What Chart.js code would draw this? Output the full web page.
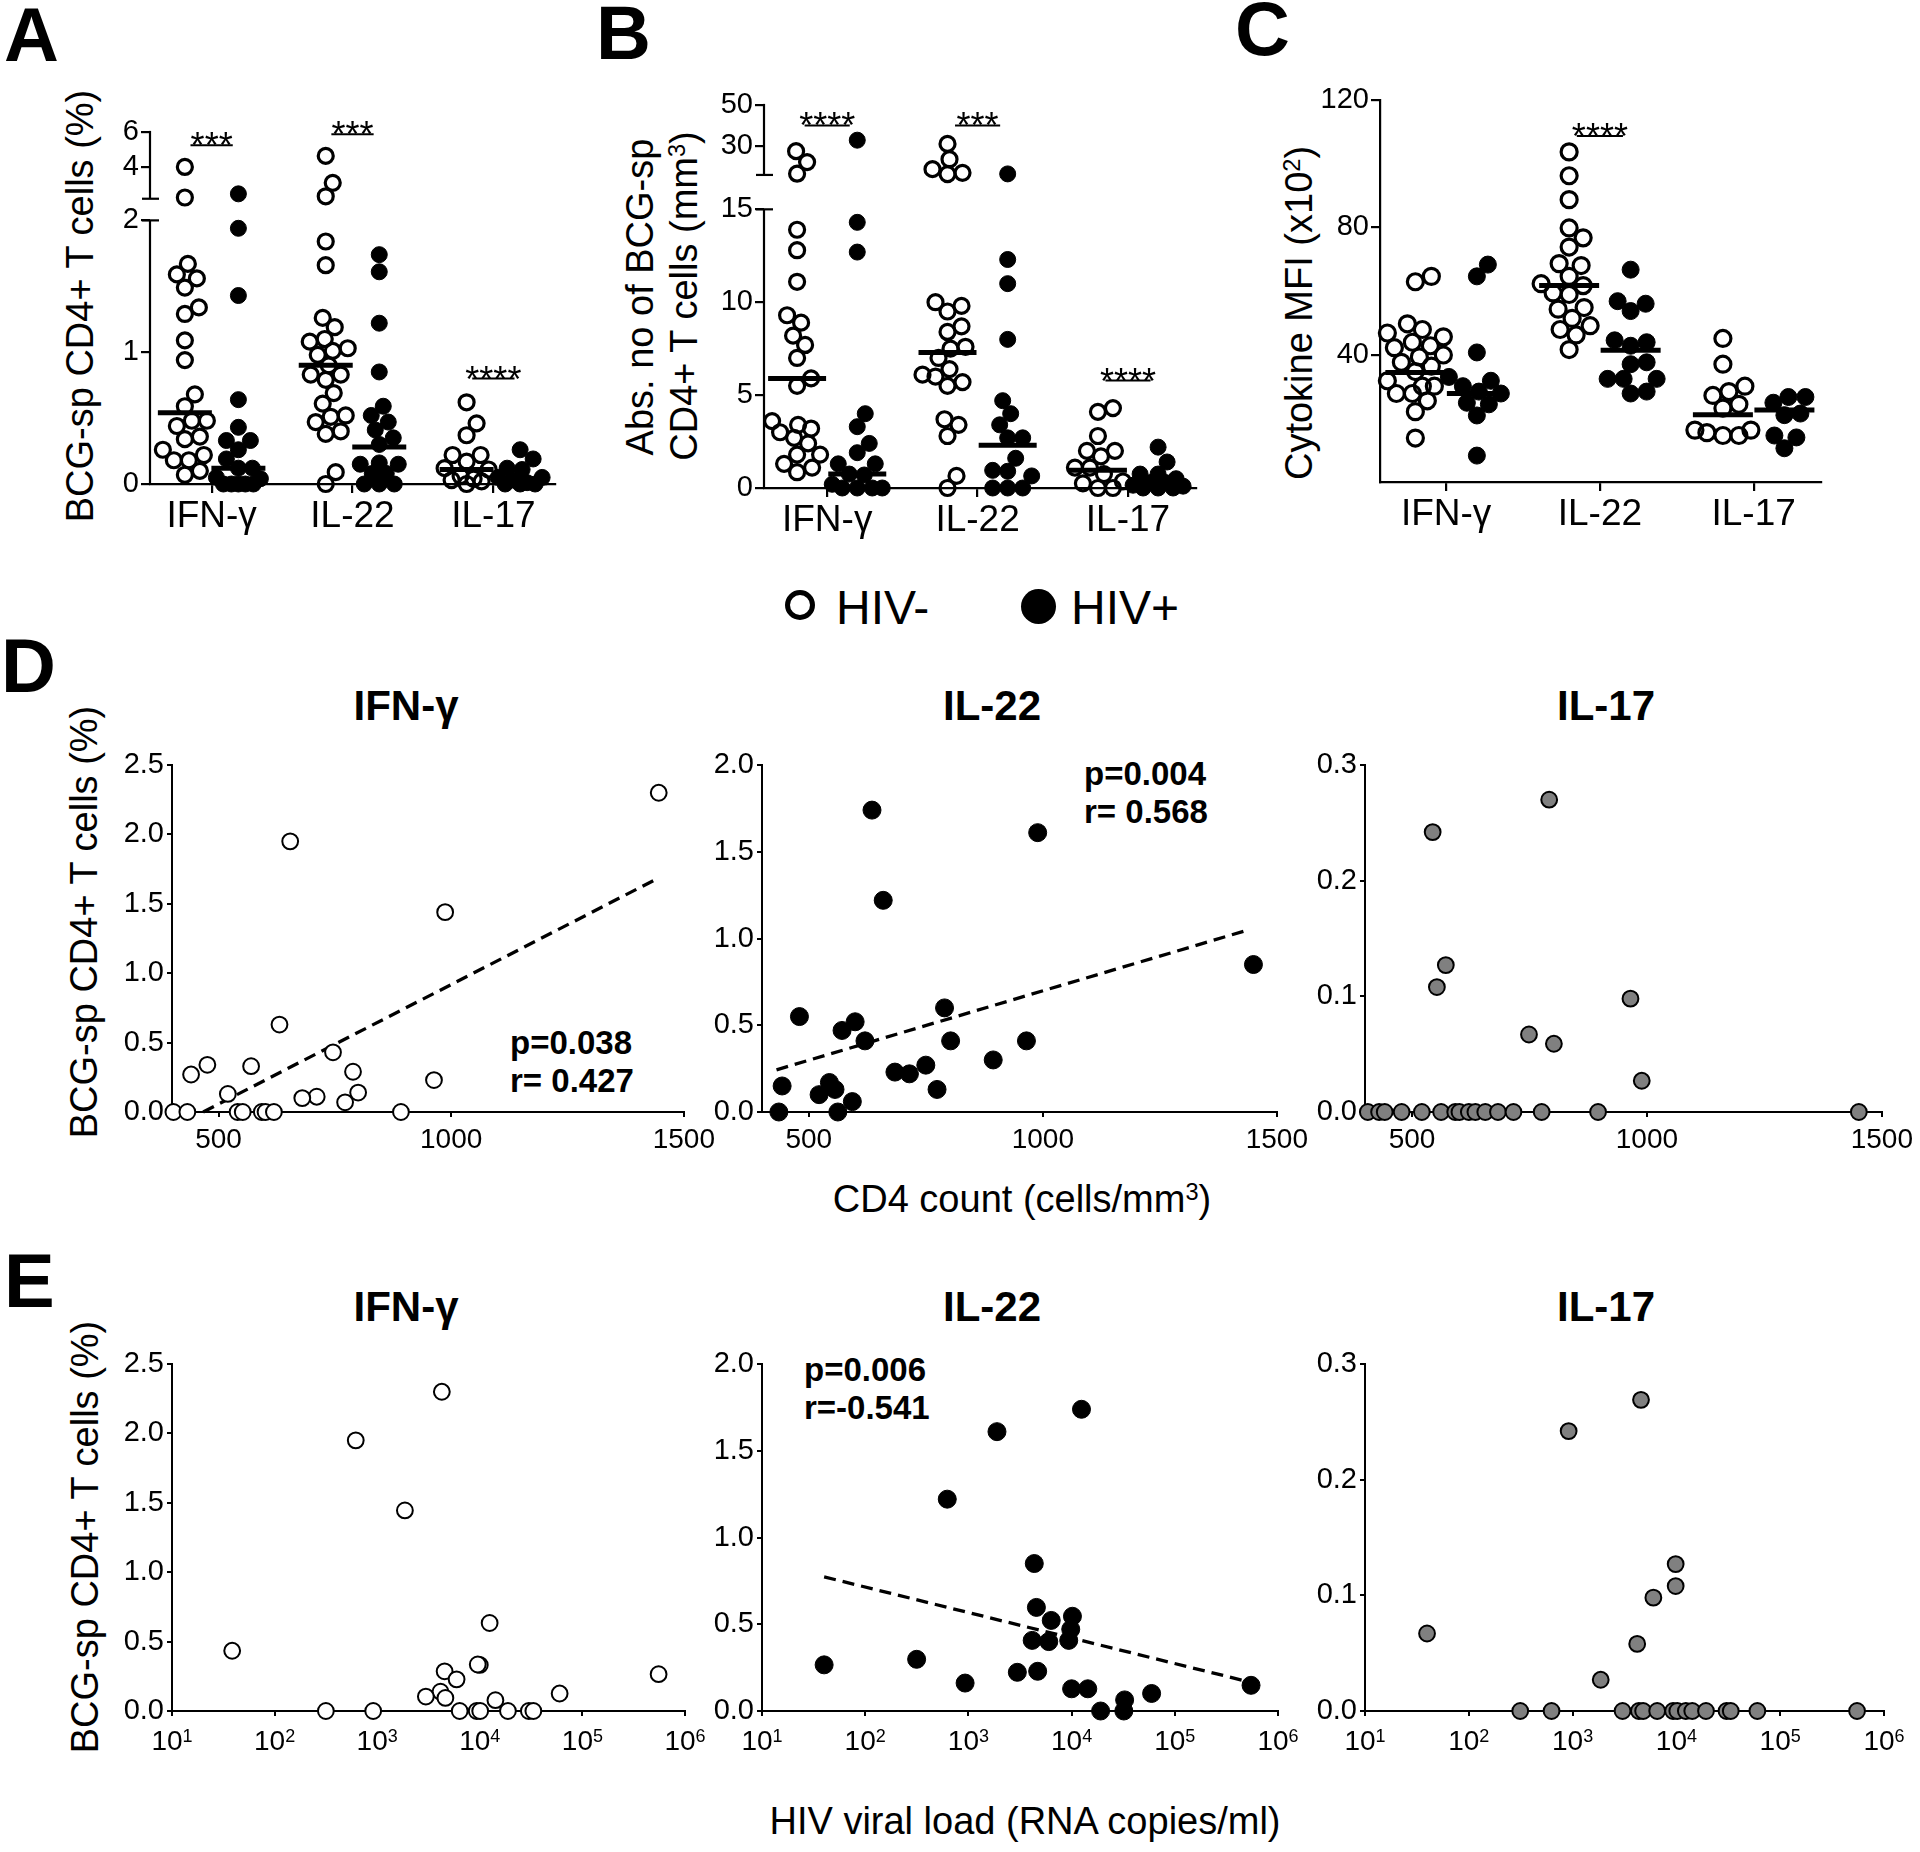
<!DOCTYPE html>
<html lang="en">
<head>
<meta charset="UTF-8" />
<title>BCG-specific CD4+ T cell responses by HIV status</title>
<script src="https://cdn.jsdelivr.net/npm/chart.js"></script>
<style>
  html, body { margin: 0; padding: 0; background: #fff; }
  body { width: 1920px; height: 1852px; position: relative; overflow: hidden;
         font-family: 'Liberation Sans', Arial, Helvetica, sans-serif; color: #000; }
  canvas { position: absolute; }
  .t { position: absolute; white-space: nowrap; line-height: 1; }
  .letter { font-weight: bold; font-size: 76px; }
  .ytitle { font-size: 38px; transform: translate(-50%, -50%) rotate(-90deg); }
  .sub { font-weight: bold; font-size: 42px; transform: translateX(-50%); }
  .stat { font-weight: bold; font-size: 33px; line-height: 38px; }
  .xt { font-size: 38px; transform: translateX(-50%); }
  sup { font-size: 0.62em; position: relative; top: -0.5em; vertical-align: baseline; line-height: 0; }
</style>
</head>
<body>
  <!-- panel letters -->
  <div class="t letter" style="left:4px;top:-3px">A</div>
  <div class="t letter" style="left:596px;top:-5px">B</div>
  <div class="t letter" style="left:1235px;top:-9px">C</div>
  <div class="t letter" style="left:1px;top:628px">D</div>
  <div class="t letter" style="left:4px;top:1243px">E</div>

  <!-- y axis titles -->
  <div class="t ytitle" style="left:80px;top:306px">BCG-sp CD4+ T cells (%)</div>
  <div class="t ytitle" style="left:640px;top:297px">Abs. no of BCG-sp</div>
  <div class="t ytitle" style="left:684px;top:296px">CD4+ T cells (mm<sup>3</sup>)</div>
  <div class="t ytitle" style="left:1299px;top:313px">Cytokine MFI (x10<sup>2</sup>)</div>
  <div class="t ytitle" style="left:84px;top:922px">BCG-sp CD4+ T cells (%)</div>
  <div class="t ytitle" style="left:85px;top:1537px">BCG-sp CD4+ T cells (%)</div>

  <!-- legend -->
  <div style="position:absolute;left:785px;top:590px;width:30px;height:30px;box-sizing:border-box;border:5px solid #000;border-radius:50%"></div>
  <div class="t" style="left:836px;top:584px;font-size:48px">HIV-</div>
  <div style="position:absolute;left:1021px;top:589px;width:35px;height:35px;border-radius:50%;background:#000"></div>
  <div class="t" style="left:1071px;top:584px;font-size:48px">HIV+</div>

  <!-- sub-plot titles -->
  <div class="t sub" style="left:406px;top:685px">IFN-γ</div>
  <div class="t sub" style="left:992px;top:685px">IL-22</div>
  <div class="t sub" style="left:1606px;top:685px">IL-17</div>
  <div class="t sub" style="left:406px;top:1286px">IFN-γ</div>
  <div class="t sub" style="left:992px;top:1286px">IL-22</div>
  <div class="t sub" style="left:1606px;top:1286px">IL-17</div>

  <!-- correlation stats -->
  <div class="t stat" style="left:510px;top:1024px">p=0.038<br>r= 0.427</div>
  <div class="t stat" style="left:1084px;top:755px">p=0.004<br>r= 0.568</div>
  <div class="t stat" style="left:804px;top:1351px">p=0.006<br>r=-0.541</div>

  <!-- shared x titles -->
  <div class="t xt" style="left:1022px;top:1180px">CD4 count (cells/mm<sup>3</sup>)</div>
  <div class="t xt" style="left:1025px;top:1802px">HIV viral load (RNA copies/ml)</div>

  <canvas id="chartA"></canvas>
  <canvas id="chartB"></canvas>
  <canvas id="chartC"></canvas>
  <canvas id="chartD1"></canvas>
  <canvas id="chartD2"></canvas>
  <canvas id="chartD3"></canvas>
  <canvas id="chartE1"></canvas>
  <canvas id="chartE2"></canvas>
  <canvas id="chartE3"></canvas>

<script>
// ---------- data ----------
const categories = ['IFN-γ', 'IL-22', 'IL-17'];

// A: BCG-sp CD4+ T cells (%), HIV- (open) / HIV+ (filled)
const aIfnNeg  = [4.0, 2.25, 1.67, 1.59, 1.56, 1.49, 1.34, 1.29, 1.09, 0.94, 0.68, 0.59, 0.48, 0.48, 0.44, 0.36, 0.34, 0.26, 0.22, 0.18, 0.18, 0.10, 0.07];
const aIfnPos  = [2.46, 1.94, 1.43, 0.64, 0.43, 0.33, 0.33, 0.26, 0.19, 0.12, 0.12, 0.05, 0.04, 0, 0, 0, 0, 0];
const aIl22Neg = [4.63, 3.09, 2.32, 1.84, 1.66, 1.26, 1.19, 1.10, 1.08, 1.03, 1.01, 0.98, 0.90, 0.83, 0.83, 0.79, 0.69, 0.61, 0.52, 0.51, 0.47, 0.40, 0.38, 0.09, 0];
const aIl22Pos = [1.74, 1.61, 1.22, 0.85, 0.59, 0.52, 0.47, 0.41, 0.35, 0.30, 0.16, 0.15, 0.15, 0.08, 0.08, 0, 0, 0];
const aIl17Neg = [0.62, 0.46, 0.37, 0.22, 0.22, 0.17, 0.12, 0.11, 0.06, 0.04, 0.03, 0.02, 0];
const aIl17Pos = [0.26, 0.19, 0.12, 0.11, 0.05, 0.05, 0.03, 0.01, 0, 0, 0];
const aMeanNeg = [0.54, 0.90, 0.11];
const aMeanPos = [0.12, 0.28, 0.01];
const aLowTicks = [0, 1, 2];
const aHighTicks = [4, 6];
const aSigText = ['***', '***', '****'];
const aSigLevel = [5.24, 5.87, 0.80];

// B: absolute number of BCG-sp CD4+ T cells (/mm3)
const bIfnNeg  = [27.7, 22.4, 16.8, 13.9, 12.8, 11.1, 9.3, 8.9, 8.2, 7.7, 7.0, 5.9, 5.5, 3.6, 3.4, 3.2, 3.0, 2.7, 2.4, 1.8, 1.8, 1.3, 1.1, 0.85];
const bIfnPos  = [33.0, 14.3, 12.7, 4.0, 3.3, 2.4, 1.9, 1.3, 1.3, 0.75, 0.7, 0.2, 0, 0, 0, 0];
const bIl22Neg = [31.2, 23.8, 19.0, 17.2, 16.6, 10.0, 9.8, 9.5, 8.7, 8.4, 7.6, 7.5, 7.0, 6.4, 6.1, 6.0, 5.7, 5.5, 3.7, 3.4, 2.8, 0.65, 0];
const bIl22Pos = [16.7, 12.3, 11.0, 8.0, 4.7, 4.0, 3.4, 2.7, 2.7, 1.6, 0.95, 0.9, 0.65, 0, 0, 0];
const bIl17Neg = [4.3, 4.1, 2.8, 2.0, 2.0, 1.7, 1.1, 1.1, 0.75, 0.35, 0.25, 0, 0];
const bIl17Pos = [2.2, 1.4, 0.75, 0.75, 0.5, 0.3, 0.3, 0.15, 0.1, 0, 0, 0];
const bMeanNeg = [5.9, 7.3, 0.95];
const bMeanPos = [0.75, 2.3, 0.1];
const bLowTicks = [0, 5, 10, 15];
const bHighTicks = [30, 50];
const bSigText = ['****', '***', '****'];
const bSigLevel = [40.1, 40.1, 5.78];

// C: cytokine MFI (x10^2)
const cIfnNeg  = [64.6, 62.9, 49.7, 47.9, 46.8, 45.6, 43.9, 42.8, 42.2, 39.9, 39.3, 37.6, 36.4, 34.7, 31.8, 30.1, 30.1, 27.8, 27.8, 25.5, 22.1, 13.8];
const cIfnPos  = [68.3, 64.6, 40.7, 33.0, 31.8, 30.1, 28.4, 27.8, 24.9, 24.4, 20.9, 8.3];
const cIl22Neg = [103.7, 96.2, 88.7, 79.8, 76.7, 73.8, 68.6, 68.0, 64.6, 62.3, 61.7, 59.4, 58.9, 54.8, 54.3, 51.4, 49.1, 47.9, 46.2, 41.6];
const cIl22Pos = [66.7, 56.8, 56.0, 53.7, 44.5, 43.9, 42.8, 37.6, 37.0, 32.4, 32.4, 32.4, 28.4, 27.8];
const cIl17Neg = [45.1, 37.0, 30.1, 28.4, 27.2, 24.4, 23.2, 16.3, 16.3, 15.5, 14.6, 14.6];
const cIl17Pos = [26.7, 26.7, 24.9, 21.5, 21.0, 14.6, 14.0, 10.6];
const cMeanNeg = [34.4, 61.7, 21.1];
const cMeanPos = [27.8, 41.4, 22.6];
const cTicks = [40, 80, 120];
const cSigText = ['****'];
const cSigLevel = [108.7];

// D: CD4 count vs BCG-sp CD4+ T cells (%)
const dIfnX  = [1446, 654, 987, 631, 746, 476, 570, 441, 789, 963, 800, 520, 711, 680, 772, 403, 433, 541, 552, 593, 601, 619, 892];
const dIfnY  = [2.30, 1.95, 1.44, 0.63, 0.43, 0.34, 0.33, 0.27, 0.29, 0.23, 0.14, 0.13, 0.11, 0.10, 0.07, 0, 0, 0, 0, 0, 0, 0, 0];
const dIl22X = [635, 989, 659, 1450, 790, 480, 599, 571, 620, 803, 965, 894, 750, 684, 715, 544, 443, 774, 556, 522, 593, 436, 562];
const dIl22Y = [1.74, 1.61, 1.22, 0.85, 0.60, 0.55, 0.52, 0.47, 0.41, 0.41, 0.41, 0.30, 0.27, 0.23, 0.22, 0.17, 0.15, 0.13, 0.13, 0.10, 0.06, 0, 0];
const dIl17X = [792, 544, 572, 553, 965, 749, 802, 989, 406, 430, 442, 478, 521, 562, 592, 601, 621, 635, 656, 683, 716, 776, 896, 1451];
const dIl17Y = [0.270, 0.242, 0.127, 0.108, 0.098, 0.067, 0.059, 0.027, 0, 0, 0, 0, 0, 0, 0, 0, 0, 0, 0, 0, 0, 0, 0, 0];
const dIfnFitX = [467, 1438];
const dIfnFitY = [0, 1.673];
const dIl22FitX = [431, 1442];
const dIl22FitY = [0.243, 1.052];

// E: HIV viral load vs BCG-sp CD4+ T cells (%)
const eIfnX  = [4266, 618, 1862, 12470, 38.6, 10000, 9550, 4540, 553000, 5940, 4140, 2980, 60000, 4620, 14200, 316, 914, 6370, 9330, 10090, 18800, 30060, 33270];
const eIfnY  = [2.30, 1.95, 1.445, 0.634, 0.434, 0.332, 0.335, 0.286, 0.265, 0.228, 0.139, 0.104, 0.126, 0.094, 0.078, 0, 0, 0, 0, 0, 0, 0, 0];
const eIl22X = [12470, 1892, 624, 4350, 4560, 10190, 6350, 9810, 4150, 6010, 9380, 315, 40, 2980, 4690, 929, 548000, 10000, 14350, 59600, 32650, 19100, 32060];
const eIl22Y = [1.739, 1.610, 1.221, 0.850, 0.597, 0.546, 0.522, 0.471, 0.407, 0.400, 0.407, 0.298, 0.266, 0.223, 0.229, 0.161, 0.148, 0.128, 0.128, 0.101, 0.064, 0, 0];
const eIl17X = [4560, 916, 9840, 9840, 6000, 39.6, 4190, 1866, 313, 627, 3030, 4350, 4780, 6530, 9290, 10200, 12330, 14220, 19280, 30400, 33400, 60260, 550000];
const eIl17Y = [0.269, 0.242, 0.127, 0.108, 0.098, 0.067, 0.058, 0.027, 0, 0, 0, 0, 0, 0, 0, 0, 0, 0, 0, 0, 0, 0, 0];
const eIl22FitX = [40, 548000];
const eIl22FitY = [0.773, 0.165];

const cd4Ticks = [500, 1000, 1500];
const vlTicks = [10, 100, 1000, 10000, 100000, 1000000];
const pctTicks25 = [0, 0.5, 1.0, 1.5, 2.0, 2.5];
const pctTicks20 = [0, 0.5, 1.0, 1.5, 2.0];
const pctTicks03 = [0, 0.1, 0.2, 0.3];

// ---------- helpers ----------
const FONT = "'Liberation Sans', Arial, Helvetica, sans-serif";

// size and place a canvas so that its chart area lands on rect
function place(id, rect, pad) {
  const cv = document.getElementById(id);
  const w = rect.r - rect.l + pad.l + pad.r;
  const h = rect.b - rect.t + pad.t + pad.b;
  cv.width = w; cv.height = h;
  cv.style.width = w + 'px'; cv.style.height = h + 'px';
  cv.style.left = (rect.l - pad.l) + 'px';
  cv.style.top = (rect.t - pad.t) + 'px';
  return cv;
}

function tickFont(size) {
  return { color: '#000', font: { family: FONT, size: size } };
}

function gridStyle(width, len) {
  return { drawOnChartArea: false, drawTicks: true, tickLength: len, color: '#000', lineWidth: width };
}

// significance bars + stars
function sigPlugin(items, size, dy, half) {
  return {
    id: 'sig',
    afterDatasetsDraw(chart) {
      const ctx = chart.ctx, xs = chart.scales.x;
      ctx.save();
      ctx.strokeStyle = '#000'; ctx.fillStyle = '#000'; ctx.lineWidth = 2;
      ctx.font = size + 'px ' + FONT; ctx.textAlign = 'center'; ctx.textBaseline = 'alphabetic';
      items.forEach(it => {
        const y = chart.scales[it.axis].getPixelForValue(it.y);
        const x1 = xs.getPixelForValue(it.cat - half), x2 = xs.getPixelForValue(it.cat + half);
        ctx.beginPath(); ctx.moveTo(x1, y); ctx.lineTo(x2, y); ctx.stroke();
        ctx.fillText(it.text, (x1 + x2) / 2, y + dy);
      });
      ctx.restore();
    }
  };
}

// y axis line with a break between the two stacked scales
function brokenPlugin(b) {
  return {
    id: 'broken',
    beforeDatasetsDraw(chart) {
      const ctx = chart.ctx, x = chart.chartArea.left;
      const lo = chart.scales.yLow, hi = chart.scales.yHigh;
      const yLowTop = lo.getPixelForValue(b.lowTop), yHighBot = hi.getPixelForValue(b.highBottom);
      const seg = (x1, y1, x2, y2) => { ctx.beginPath(); ctx.moveTo(x1, y1); ctx.lineTo(x2, y2); ctx.stroke(); };
      ctx.save(); ctx.strokeStyle = '#000'; ctx.lineWidth = b.width;
      seg(x, chart.chartArea.bottom + b.width / 2, x, yLowTop);
      seg(x, yHighBot, x, hi.getPixelForValue(hi.max) - b.width / 2);
      seg(x - 8, yLowTop, x + 9, yLowTop);
      seg(x - 8, yHighBot, x + 9, yHighBot);
      ctx.restore();
    }
  };
}

// 10^n labels for the log axis
function logLabelPlugin(o) {
  return {
    id: 'logLabels',
    afterDraw(chart) {
      const xs = chart.scales.x, ctx = chart.ctx;
      const y = chart.chartArea.bottom + o.dy;
      ctx.save(); ctx.fillStyle = '#000'; ctx.textAlign = 'left'; ctx.textBaseline = 'alphabetic';
      xs.ticks.forEach(t => {
        const e = String(Math.round(Math.log10(t.value)));
        ctx.font = o.size + 'px ' + FONT; const w1 = ctx.measureText('10').width;
        ctx.font = o.sup + 'px ' + FONT; const w2 = ctx.measureText(e).width;
        const x0 = xs.getPixelForValue(t.value) - (w1 + w2) / 2;
        ctx.font = o.size + 'px ' + FONT; ctx.fillText('10', x0, y);
        ctx.font = o.sup + 'px ' + FONT; ctx.fillText(e, x0 + w1, y - o.rise);
      });
      ctx.restore();
    }
  };
}

// spread points of each column sideways so they do not sit on top of each other
function swarm(chart) {
  const xs = chart.scales.x;
  const groups = {};
  chart.data.datasets.forEach(ds => {
    if (ds.group === undefined) return;
    (groups[ds.group] = groups[ds.group] || []).push(ds);
  });
  Object.values(groups).forEach(list => {
    const cx = xs.getPixelForValue(list[0].center);
    const opt = list[0].swarmOpt;
    const pts = [];
    list.forEach(ds => {
      const ys = chart.scales[ds.yAxisID];
      ds.data.forEach(p => pts.push({ p, py: ys.getPixelForValue(p.y) }));
    });
    pts.sort((a, b) => b.py - a.py);
    const placed = [];
    pts.forEach(o => {
      let best = 0, bestD = -1;
      for (let k = 0; k <= 2 * opt.spread; k++) {
        const off = (k % 2 ? 1 : -1) * Math.ceil(k / 2);
        let dmin = Infinity;
        placed.forEach(q => { dmin = Math.min(dmin, Math.hypot(q.x - (cx + off), q.y - o.py)); });
        if (dmin >= opt.gap) { best = off; break; }
        if (dmin > bestD) { bestD = dmin; best = off; }
      }
      placed.push({ x: cx + best, y: o.py });
      o.p.x = xs.getValueForPixel(cx + best);
    });
    list.forEach(ds => { ds.data = ds.data.slice(); });
  });
  chart.update('none');
}

// column scatter (panels A, B, C)
function dotPanel(o) {
  const cv = place(o.id, o.rect, o.pad);
  const datasets = [];
  o.groups.forEach((g, gi) => {
    const center = g.cat + g.side * o.offset;
    const axes = o.broken ? ['yLow', 'yHigh'] : ['y'];
    axes.forEach(ax => {
      const vals = g.vals.filter(v => !o.broken || (ax === 'yHigh' ? v > o.broken.lowTop : v <= o.broken.lowTop));
      if (!vals.length) return;
      datasets.push({
        group: gi, center: center, swarmOpt: o.swarm, yAxisID: ax, clip: false, order: 1,
        data: vals.map(v => ({ x: center, y: v })),
        pointRadius: g.filled ? o.dot.rFill : o.dot.rOpen,
        pointBorderWidth: g.filled ? 1 : o.dot.bw,
        pointBorderColor: '#000',
        pointBackgroundColor: g.filled ? '#000' : 'rgba(0,0,0,0)'
      });
    });
    datasets.push({
      yAxisID: axes[0], clip: false, order: 0,
      data: [{ x: center, y: g.mean }],
      pointStyle: 'line', pointRadius: o.meanHalf, pointBorderWidth: 5, pointBorderColor: '#000'
    });
  });

  const scales = {
    x: {
      type: 'linear', min: o.xMin, max: o.xMax,
      afterBuildTicks: s => { s.ticks = categories.map((c, i) => ({ value: i })); },
      afterFit: s => { s.height = o.pad.b; },
      ticks: Object.assign(tickFont(37), { autoSkip: false, maxRotation: 0, padding: 2, callback: (v, i) => categories[i] }),
      border: { display: true, color: '#000', width: 2.2 },
      grid: gridStyle(2.2, 9)
    }
  };
  const yBase = (ticksArr) => ({
    type: 'linear', axis: 'y', position: 'left',
    afterBuildTicks: s => { s.ticks = ticksArr.map(v => ({ value: v })); },
    afterFit: s => { s.width = o.pad.l; },
    ticks: Object.assign(tickFont(29), { padding: 2, callback: v => String(v) }),
    grid: gridStyle(2.2, 9)
  });
  const plugins = [sigPlugin(o.sig, 36, 13, 0.15)];
  if (o.broken) {
    const b = o.broken;
    scales.yLow = Object.assign(yBase(b.lowTicks), { min: 0, max: b.lowMax, stack: 'y', stackWeight: b.wLow, weight: 0, border: { display: false } });
    scales.yHigh = Object.assign(yBase(b.highTicks), { min: b.highMin, max: b.highMax, stack: 'y', stackWeight: b.wHigh, weight: 1, border: { display: false } });
    plugins.push(brokenPlugin({ lowTop: b.lowTop, highBottom: b.highBottom, width: 2.2 }));
  } else {
    scales.y = Object.assign(yBase(o.yTicks), { min: o.yMin, max: o.yMax, border: { display: true, color: '#000', width: 2.2 } });
  }

  const chart = new Chart(cv, {
    type: 'scatter',
    data: { datasets },
    options: {
      responsive: false, animation: false, events: [],
      layout: { padding: { top: o.pad.t, right: o.pad.r, left: 0, bottom: 0 } },
      plugins: { legend: { display: false }, tooltip: { enabled: false } },
      scales
    },
    plugins
  });
  swarm(chart);
  return chart;
}

// x/y scatter (rows D and E)
function scatterPanel(o) {
  const cv = place(o.id, o.rect, o.pad);
  const datasets = [{
    order: 1, clip: false,
    data: o.x.map((x, i) => ({ x, y: o.y[i] })),
    pointRadius: o.mk.r, pointBorderWidth: o.mk.bw,
    pointBorderColor: '#000', pointBackgroundColor: o.mk.fill
  }];
  if (o.fitX) {
    datasets.push({
      order: 2, clip: false, showLine: true, pointRadius: 0,
      borderColor: '#000', borderWidth: 3.3, borderDash: [12, 7],
      data: o.fitX.map((x, i) => ({ x, y: o.fitY[i] }))
    });
  }
  const yt = o.yTicks;
  return new Chart(cv, {
    type: 'scatter',
    data: { datasets },
    options: {
      responsive: false, animation: false, events: [],
      layout: { padding: { top: o.pad.t, right: o.pad.r, left: 0, bottom: 0 } },
      plugins: { legend: { display: false }, tooltip: { enabled: false } },
      scales: {
        x: {
          type: o.log ? 'logarithmic' : 'linear', min: o.xMin, max: o.xMax,
          afterBuildTicks: s => { s.ticks = o.xTicks.map(v => ({ value: v })); },
          afterFit: s => { s.height = o.pad.b; },
          ticks: Object.assign(tickFont(28), { display: !o.log, autoSkip: false, maxRotation: 0, padding: 6, callback: v => String(v) }),
          border: { display: true, color: '#000', width: 2 },
          grid: gridStyle(2, 5)
        },
        y: {
          type: 'linear', min: 0, max: yt[yt.length - 1],
          afterBuildTicks: s => { s.ticks = yt.map(v => ({ value: v })); },
          afterFit: s => { s.width = o.pad.l; },
          ticks: Object.assign(tickFont(29), { padding: 3, callback: v => v.toFixed(1) }),
          border: { display: true, color: '#000', width: 2 },
          grid: gridStyle(2, 5)
        }
      }
    },
    plugins: o.log ? [logLabelPlugin({ dy: 39, size: 28, sup: 18, rise: 8 })] : []
  });
}

function sigItems(levels, texts, axes, cats) {
  return levels.map((y, i) => ({ cat: cats[i], y: y, axis: axes[i], text: texts[i] }));
}

// ---------- build ----------
const openDot = { r: 7.9, bw: 2, fill: '#ffffff' };
const fillDot = { r: 9, bw: 1, fill: '#000000' };
const grayDot = { r: 7.9, bw: 2, fill: '#808080' };
const rowPad = { l: 70, t: 22, r: 36, b: 52 };

dotPanel({
  id: 'chartA', rect: { l: 150, t: 130, r: 562, b: 484 }, pad: { l: 80, t: 30, r: 25, b: 75 },
  xMin: -0.4375, xMax: 2.4375, offset: 0.19,
  dot: { rOpen: 7.5, bw: 3.2, rFill: 8 }, meanHalf: 27, swarm: { gap: 15, spread: 22 },
  groups: [
    { vals: aIfnNeg, mean: aMeanNeg[0], cat: 0, side: -1, filled: false },
    { vals: aIfnPos, mean: aMeanPos[0], cat: 0, side: 1, filled: true },
    { vals: aIl22Neg, mean: aMeanNeg[1], cat: 1, side: -1, filled: false },
    { vals: aIl22Pos, mean: aMeanPos[1], cat: 1, side: 1, filled: true },
    { vals: aIl17Neg, mean: aMeanNeg[2], cat: 2, side: -1, filled: false },
    { vals: aIl17Pos, mean: aMeanPos[2], cat: 2, side: 1, filled: true }
  ],
  broken: { lowTicks: aLowTicks, highTicks: aHighTicks, lowMax: 2.083, highMin: 1.567, highMax: 6,
            lowTop: 2, highBottom: 2.18, wLow: 275.8, wHigh: 77.8 },
  sig: sigItems(aSigLevel, aSigText, ['yHigh', 'yHigh', 'yLow'], [0, 1, 2])
});

dotPanel({
  id: 'chartB', rect: { l: 764, t: 101, r: 1215, b: 488 }, pad: { l: 80, t: 30, r: 15, b: 75 },
  xMin: -0.42, xMax: 2.452, offset: 0.2,
  dot: { rOpen: 7.5, bw: 3.2, rFill: 8 }, meanHalf: 29, swarm: { gap: 15, spread: 25 },
  groups: [
    { vals: bIfnNeg, mean: bMeanNeg[0], cat: 0, side: -1, filled: false },
    { vals: bIfnPos, mean: bMeanPos[0], cat: 0, side: 1, filled: true },
    { vals: bIl22Neg, mean: bMeanNeg[1], cat: 1, side: -1, filled: false },
    { vals: bIl22Pos, mean: bMeanPos[1], cat: 1, side: 1, filled: true },
    { vals: bIl17Neg, mean: bMeanNeg[2], cat: 2, side: -1, filled: false },
    { vals: bIl17Pos, mean: bMeanPos[2], cat: 2, side: 1, filled: true }
  ],
  broken: { lowTicks: bLowTicks, highTicks: bHighTicks, lowMax: 15.927, highMin: 7.9, highMax: 50,
            lowTop: 15, highBottom: 16.2, wLow: 298.9, wHigh: 88 },
  sig: sigItems(bSigLevel, bSigText, ['yHigh', 'yHigh', 'yLow'], [0, 1, 2])
});

dotPanel({
  id: 'chartC', rect: { l: 1380, t: 95, r: 1836, b: 482 }, pad: { l: 90, t: 30, r: 20, b: 75 },
  xMin: -0.43, xMax: 2.438, offset: 0.2,
  dot: { rOpen: 8, bw: 3.2, rFill: 8.5 }, meanHalf: 30, swarm: { gap: 16, spread: 28 },
  groups: [
    { vals: cIfnNeg, mean: cMeanNeg[0], cat: 0, side: -1, filled: false },
    { vals: cIfnPos, mean: cMeanPos[0], cat: 0, side: 1, filled: true },
    { vals: cIl22Neg, mean: cMeanNeg[1], cat: 1, side: -1, filled: false },
    { vals: cIl22Pos, mean: cMeanPos[1], cat: 1, side: 1, filled: true },
    { vals: cIl17Neg, mean: cMeanNeg[2], cat: 2, side: -1, filled: false },
    { vals: cIl17Pos, mean: cMeanPos[2], cat: 2, side: 1, filled: true }
  ],
  yTicks: cTicks, yMin: 0, yMax: 120,
  sig: sigItems(cSigLevel, cSigText, ['y'], [1])
});

scatterPanel({ id: 'chartD1', rect: { l: 172, t: 765, r: 685, b: 1112 }, pad: rowPad,
  x: dIfnX, y: dIfnY, mk: openDot, xMin: 400, xMax: 1500, xTicks: cd4Ticks, yTicks: pctTicks25,
  fitX: dIfnFitX, fitY: dIfnFitY });
scatterPanel({ id: 'chartD2', rect: { l: 762, t: 765, r: 1278, b: 1112 }, pad: rowPad,
  x: dIl22X, y: dIl22Y, mk: fillDot, xMin: 400, xMax: 1500, xTicks: cd4Ticks, yTicks: pctTicks20,
  fitX: dIl22FitX, fitY: dIl22FitY });
scatterPanel({ id: 'chartD3', rect: { l: 1365, t: 765, r: 1883, b: 1112 }, pad: rowPad,
  x: dIl17X, y: dIl17Y, mk: grayDot, xMin: 400, xMax: 1500, xTicks: cd4Ticks, yTicks: pctTicks03 });

scatterPanel({ id: 'chartE1', rect: { l: 172, t: 1364, r: 685, b: 1711 }, pad: rowPad, log: true,
  x: eIfnX, y: eIfnY, mk: openDot, xMin: 10, xMax: 1000000, xTicks: vlTicks, yTicks: pctTicks25 });
scatterPanel({ id: 'chartE2', rect: { l: 762, t: 1364, r: 1278, b: 1711 }, pad: rowPad, log: true,
  x: eIl22X, y: eIl22Y, mk: fillDot, xMin: 10, xMax: 1000000, xTicks: vlTicks, yTicks: pctTicks20,
  fitX: eIl22FitX, fitY: eIl22FitY });
scatterPanel({ id: 'chartE3', rect: { l: 1365, t: 1364, r: 1884, b: 1711 }, pad: rowPad, log: true,
  x: eIl17X, y: eIl17Y, mk: grayDot, xMin: 10, xMax: 1000000, xTicks: vlTicks, yTicks: pctTicks03 });
</script>
</body>
</html>
